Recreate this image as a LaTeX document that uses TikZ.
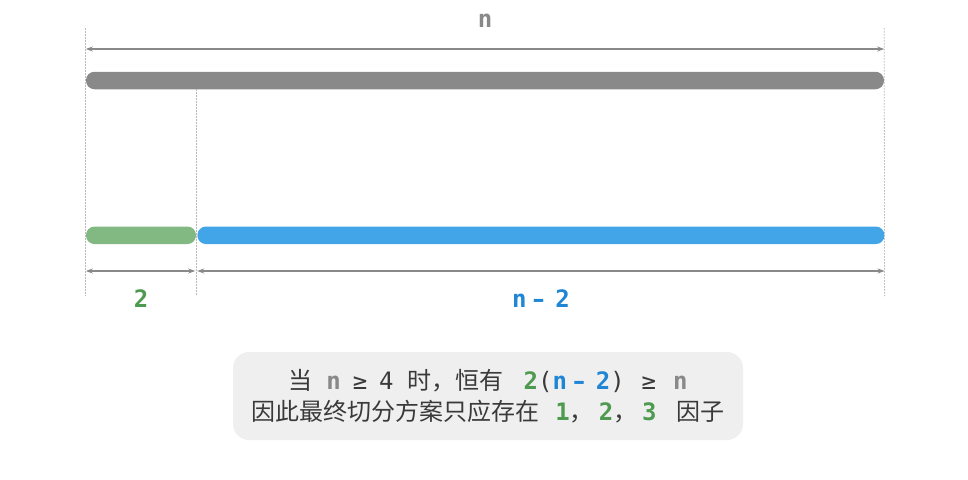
\documentclass[tikz,border=0pt]{standalone}
\usepackage{fontspec}
\setmainfont{Noto Sans CJK SC}
\setmonofont{DejaVu Sans Mono}
\newfontfamily\dashfont{DejaVu Sans}
\usetikzlibrary{arrows.meta}
\usetikzlibrary{positioning}
\definecolor{bargray}{HTML}{898989}
\definecolor{bargreen}{HTML}{82B882}
\definecolor{barblue}{HTML}{41A5E8}
\definecolor{txtgreen}{HTML}{4E9A50}
\definecolor{txtblue}{HTML}{1E86D4}
\definecolor{txtdark}{HTML}{3A3A3A}
\definecolor{noteback}{HTML}{EFEFEF}
\newcommand{\minusdash}{\hspace{0.25em}{\dashfont\bfseries –}\hspace{0.45em}}
\tikzstyle{bar} = [rectangle, rounded corners=8.5pt, minimum height=17.5pt, inner sep=0pt]
\tikzstyle{dim} = [<->, >={Stealth[length=7pt, width=5pt]}, draw=bargray, line width=1.3pt]
\tikzstyle{guide} = [draw=gray!55, line width=0.8pt, dash pattern=on 1.5pt off 1.5pt]
\tikzstyle{lbl} = [font=\fontsize{24}{28}\selectfont\ttfamily\bfseries, inner sep=0pt]
\tikzstyle{note} = [rectangle, rounded corners=16pt, fill=noteback, minimum width=510pt, minimum height=88pt, align=center, text=txtdark, font=\fontsize{24}{31}\selectfont]

\begin{document}
\begin{tikzpicture}[x=1pt, y=-1pt]
  \useasboundingbox (0,0) rectangle (968,479);

  % We start by placing the bars
  \node (bar_n) [bar, fill=bargray, minimum width=798pt] at (485,80.5) {};
  \node (bar_two) [bar, fill=bargreen, minimum width=110pt] at (141,235.3) {};
  \node (bar_rest) [bar, fill=barblue, minimum width=687pt, right=1pt of bar_two] {};

  % Guide lines
  \draw [guide] ([yshift=52.5pt]bar_n.west) -- ([yshift=-60.7pt]bar_two.west);
  \draw [guide] (bar_two.east |- bar_n.south) -- ([yshift=-60.7pt]bar_two.east);
  \draw [guide] ([yshift=52.5pt]bar_n.east) -- ([yshift=-60.7pt]bar_rest.east);

  % Dimension arrows
  \draw [dim] ([yshift=31.5pt]bar_n.west) -- ([yshift=31.5pt]bar_n.east);
  \draw [dim] ([yshift=-35.7pt]bar_two.west) -- ([xshift=-1pt, yshift=-35.7pt]bar_two.east);
  \draw [dim] ([yshift=-35.7pt]bar_rest.west) -- ([yshift=-35.7pt]bar_rest.east);

  % Labels
  \node (n_lbl) [lbl, text=bargray] at ([yshift=59.5pt]bar_n.center) {n};
  \node (two_lbl) [lbl, text=txtgreen] at ([yshift=-63pt]bar_two.center) {2};
  \node (rest_lbl) [lbl, text=txtblue] at ([yshift=-63pt]bar_rest.center) {n\minusdash 2};

  % Note box
  \node (note) [note] at (488,396) {当\hspace{14pt}{\ttfamily\textcolor{bargray}{\bfseries n}\hspace{12pt}≥\hspace{12pt}4}\hspace{14pt}时，恒有\hspace{20pt}{\ttfamily\textcolor{txtgreen}{\bfseries 2}(\textcolor{txtblue}{\bfseries n\minusdash 2})\hspace{17pt}≥\hspace{17pt}\textcolor{bargray}{\bfseries n}}\\
    因此最终切分方案只应存在\hspace{16pt}{\ttfamily\bfseries\textcolor{txtgreen}{1}}，\hspace{5pt}{\ttfamily\bfseries\textcolor{txtgreen}{2}}，\hspace{5pt}{\ttfamily\bfseries\textcolor{txtgreen}{3}}\hspace{20pt}因子};

\end{tikzpicture}
\end{document}
